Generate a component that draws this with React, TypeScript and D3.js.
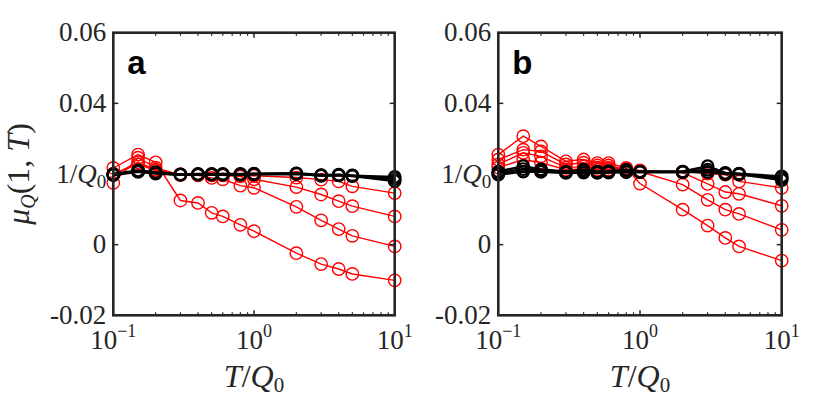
import React from 'react';
import * as d3 from 'd3';

// x positions (T/Q0) shared by every series
const xVals = [0.1, 0.15, 0.2, 0.3, 0.4, 0.5, 0.6, 0.8, 1, 2, 3, 4, 5, 10];

// panel a
const redA1 = [0.0217, 0.0255, 0.0233, 0.0125, 0.0118, 0.009, 0.008, 0.0056, 0.0038, -0.0024, -0.0055, -0.0069, -0.0083, -0.0101];
const redA2 = [0.0175, 0.0246, 0.0218, 0.0197, 0.0196, 0.0189, 0.0185, 0.0167, 0.0161, 0.0107, 0.0069, 0.0044, 0.0025, -0.0005];
const redA3 = [0.0198, 0.0233, 0.0212, 0.0199, 0.0198, 0.0196, 0.0196, 0.0193, 0.0185, 0.0163, 0.0142, 0.0123, 0.0109, 0.008];
const redA4 = [0.02, 0.0227, 0.021, 0.0199, 0.0199, 0.0198, 0.0198, 0.0197, 0.0195, 0.019, 0.0184, 0.0179, 0.0165, 0.0146];
const blackA1 = [0.0198, 0.0208, 0.0203, 0.0198, 0.0199, 0.0199, 0.0199, 0.0199, 0.02, 0.0201, 0.0195, 0.0197, 0.0195, 0.0192];
const blackA2 = [0.02, 0.021, 0.0205, 0.0199, 0.02, 0.02, 0.02, 0.02, 0.0201, 0.0202, 0.0197, 0.0198, 0.0196, 0.0186];
const blackA3 = [0.0197, 0.0206, 0.0201, 0.0198, 0.0198, 0.0198, 0.0198, 0.0198, 0.0199, 0.02, 0.0196, 0.0196, 0.0194, 0.018];

// panel b
const redB1 = [0.0255, 0.0307, 0.0278, 0.0236, 0.0241, 0.0231, 0.0231, 0.0217, 0.0173, 0.0099, 0.0054, 0.0019, -0.0005, -0.0045];
const redB2 = [0.0241, 0.0269, 0.0264, 0.0227, 0.0232, 0.0224, 0.0224, 0.0212, 0.0207, 0.017, 0.0127, 0.0099, 0.0087, 0.0042];
const redB3 = [0.0227, 0.026, 0.025, 0.0218, 0.0221, 0.0218, 0.0218, 0.0212, 0.021, 0.0204, 0.0172, 0.0149, 0.0144, 0.011];
const redB4 = [0.0218, 0.0241, 0.0232, 0.0212, 0.0214, 0.0212, 0.0212, 0.0208, 0.0207, 0.0207, 0.0201, 0.0198, 0.0179, 0.0161];
const blackB1 = [0.0207, 0.0222, 0.0213, 0.0207, 0.0212, 0.0207, 0.0208, 0.0212, 0.0207, 0.0207, 0.0222, 0.0203, 0.0201, 0.0193];
const blackB2 = [0.0198, 0.0207, 0.0206, 0.0203, 0.0204, 0.0203, 0.0204, 0.0205, 0.0205, 0.0205, 0.0212, 0.02, 0.0199, 0.0183];
const blackB3 = [0.0202, 0.0214, 0.021, 0.0205, 0.0207, 0.0205, 0.0206, 0.0208, 0.0206, 0.0206, 0.0205, 0.0202, 0.02, 0.0188];

const yTicks = [-0.02, 0, 0.02, 0.04, 0.06];
const yTickLabels = ['-0.02', '0', '1/Q', '0.04', '0.06'];
const xTicks = [0.1, 1, 10];
const xTickExps = ['\u22121', '0', '1'];
const xMinor = [0.2, 0.3, 0.4, 0.5, 0.6, 0.7, 0.8, 0.9, 2, 3, 4, 5, 6, 7, 8, 9];

const serif = '"Liberation Serif", "DejaVu Serif", serif';
const sans = '"Liberation Sans", Arial, sans-serif';
const frame = '#262626';
const top = 32.7;
const bottom = 315.3;

const line = (xs: d3.ScaleLogarithmic<number, number>, ys: d3.ScaleLinear<number, number>) =>
  d3.line<number>().x((_, i) => xs(xVals[i])).y(d => ys(d));

interface PanelProps {
  left: number;
  right: number;
  tag: string;
  reds: number[][];
  blacks: number[][];
}

const Panel: React.FC<PanelProps> = ({ left, right, tag, reds, blacks }) => {
  const x = d3.scaleLog().domain([0.1, 10]).range([left, right]);
  const y = d3.scaleLinear().domain([-0.02, 0.06]).range([bottom, top]);
  const path = line(x, y);

  return (
    <g>
      {reds.map((s, k) => (
        <g key={'r' + k}>
          <path d={path(s) || ''} fill="none" stroke="#ff0000" strokeWidth={1.4} />
          {s.map((v, i) => (
            <circle key={i} cx={x(xVals[i])} cy={y(v)} r={6.2} fill="none" stroke="#ff0000" strokeWidth={1.4} />
          ))}
        </g>
      ))}
      {blacks.map((s, k) => (
        <g key={'b' + k}>
          <path d={path(s) || ''} fill="none" stroke="#000" strokeWidth={2.4} />
          {s.map((v, i) => (
            <circle key={i} cx={x(xVals[i])} cy={y(v)} r={5.8} fill="none" stroke="#000" strokeWidth={2.2} />
          ))}
        </g>
      ))}

      {/* ticks */}
      {yTicks.map(t => (
        <g key={'yt' + t}>
          <line x1={left} x2={left + 5} y1={y(t)} y2={y(t)} stroke={frame} strokeWidth={1.5} />
          <line x1={right} x2={right - 5} y1={y(t)} y2={y(t)} stroke={frame} strokeWidth={1.5} />
        </g>
      ))}
      {xTicks.map(t => (
        <g key={'xt' + t}>
          <line x1={x(t)} x2={x(t)} y1={bottom} y2={bottom - 5} stroke={frame} strokeWidth={1.5} />
          <line x1={x(t)} x2={x(t)} y1={top} y2={top + 5} stroke={frame} strokeWidth={1.5} />
        </g>
      ))}
      {xMinor.map(t => (
        <g key={'xm' + t}>
          <line x1={x(t)} x2={x(t)} y1={bottom} y2={bottom - 3} stroke={frame} strokeWidth={1.2} />
          <line x1={x(t)} x2={x(t)} y1={top} y2={top + 3} stroke={frame} strokeWidth={1.2} />
        </g>
      ))}

      <rect x={left} y={top} width={right - left} height={bottom - top} fill="none" stroke={frame} strokeWidth={2.6} />

      {/* tick labels */}
      {yTicks.map((t, i) => (
        <text key={'yl' + t} x={left - 7} y={y(t) + 8.5} textAnchor="end" fontFamily={serif} fontSize={27} fill="#262626">
          {i === 2 ? (
            <>
              <tspan>1/</tspan>
              <tspan fontStyle="italic">Q</tspan>
              <tspan fontSize={19} dy={5}>0</tspan>
            </>
          ) : (
            yTickLabels[i]
          )}
        </text>
      ))}
      {xTicks.map((t, i) => (
        <text key={'xl' + t} x={x(t)} y={349} textAnchor="middle" fontFamily={serif} fontSize={27} fill="#262626">
          <tspan>10</tspan>
          <tspan fontSize={18} dy={-12}>{xTickExps[i]}</tspan>
        </text>
      ))}

      <text x={(left + right) / 2} y={387} textAnchor="middle" fontFamily={serif} fontSize={32} fill="#262626">
        <tspan fontStyle="italic">T</tspan>
        <tspan>/</tspan>
        <tspan fontStyle="italic">Q</tspan>
        <tspan fontSize={21} dy={5}>0</tspan>
      </text>

      <text x={left + 14} y={73.5} fontFamily={sans} fontWeight="bold" fontSize={33} fill="#000">
        {tag}
      </text>
    </g>
  );
};

const App: React.FC = () => (
  <div style={{ position: 'fixed', left: 0, top: 0 }}>
    <svg width={822} height={413} viewBox="0 0 822 413" style={{ display: 'block', background: '#fff' }}>
      <Panel left={113.3} right={394.7} tag="a" reds={[redA1, redA2, redA3, redA4]} blacks={[blackA1, blackA2, blackA3]} />
      <Panel left={498.3} right={781.7} tag="b" reds={[redB1, redB2, redB3, redB4]} blacks={[blackB1, blackB2, blackB3]} />
      <text
        transform={`translate(29, ${(top + bottom) / 2}) rotate(-90)`}
        textAnchor="middle"
        fontFamily={serif}
        fontSize={32}
        fill="#262626"
      >
        <tspan fontStyle="italic">{'\u03bc'}</tspan>
        <tspan fontStyle="italic" fontSize={20} dy={6}>Q</tspan>
        <tspan dy={-6}>(1, </tspan>
        <tspan fontStyle="italic">T</tspan>
        <tspan>)</tspan>
      </text>
    </svg>
  </div>
);

export default App;
